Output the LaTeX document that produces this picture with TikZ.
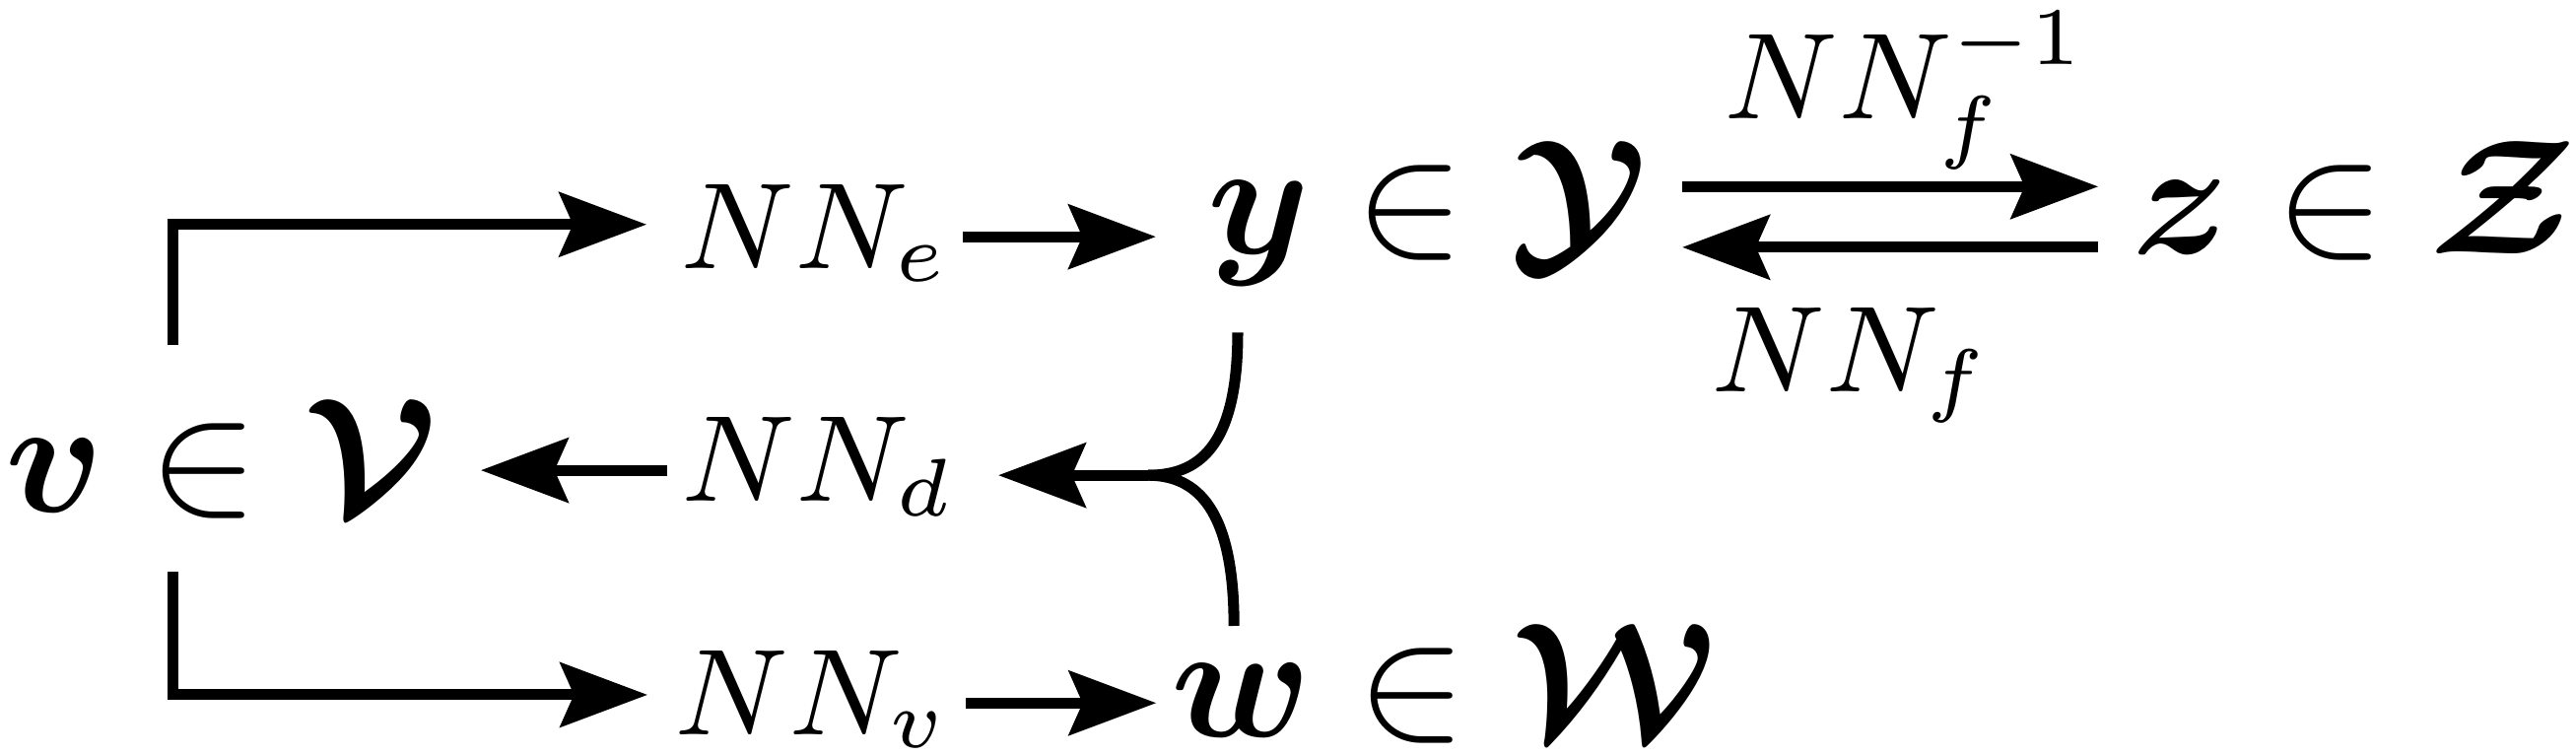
\documentclass[tikz,border=0pt]{standalone}
\usepackage{amsmath,amssymb}
\usetikzlibrary{arrows.meta}

\begin{document}
\begin{tikzpicture}[thick,>={Stealth[length=6.4pt,width=4.7pt,inset=1pt]},
		elem/.style={font=\large,inner sep=0pt,text height=8.2pt,text depth=2.3pt,anchor=base west},
		nnet/.style={font=\small,inner sep=0pt,text height=6.2pt,text depth=1.6pt,anchor=base west}]
			\useasboundingbox (0,0) rectangle (6.642,-1.944);
			\node[elem] (vV) at (0,-1.321) {$\boldsymbol{v}\in\boldsymbol{\mathcal{V}}$};
			\node[elem] (yY) at (3.100,-0.653) {$\boldsymbol{y}\in\boldsymbol{\mathcal{Y}}$};
			\node[elem] (zZ) at (5.484,-0.653) {$\boldsymbol{z}\in\boldsymbol{\mathcal{Z}}$};
			\node[elem] (wW) at (3.006,-1.898) {$\boldsymbol{w}\in\boldsymbol{\mathcal{W}}$};
			\node[nnet] (NNe) at (1.741,-0.691) {$NN_e$};
			\node[nnet] (NNd) at (1.744,-1.293) {$NN_d$};
			\node[nnet] (NNv) at (1.726,-1.893) {$NN_v$};
			\node[nnet] (NNfi) at (4.431,-0.305) {$NN_f^{-1}$};
			\node[nnet] (NNf) at (4.398,-1.011) {$NN_f$};
			\coordinate (vtop) at (0.445,-0.889);
			\coordinate (vbot) at (0.445,-1.474);
			\coordinate (mrg) at (2.960,-1.225);
			% encoder and decoder branches
			\draw[->] (vtop) |- ([xshift=-2.1pt,yshift=0.9pt]NNe.west);
			\draw[->] (vbot) |- ([xshift=-1.6pt,yshift=0.6pt]NNv.west);
			\draw[->] ([xshift=0.5pt]NNe.east) -- ([xshift=-3.4pt]NNe.east -| yY.west);
			\draw[->] ([xshift=0.7pt]NNv.east) -- ([xshift=-0.7pt]NNv.east -| wW.west);
			\draw[->] ([xshift=-0.7pt]NNd.west) -- ([xshift=2.7pt]NNd.west -| vV.east);
			% flow
			\draw[->] ([xshift=2.1pt,yshift=1.95pt]yY.east) -- ([xshift=-2.1pt,yshift=1.95pt]zZ.west);
			\draw[->] ([xshift=-2.1pt,yshift=-2.5pt]zZ.west) -- ([xshift=2.1pt,yshift=-2.5pt]yY.east);
			\draw ([xshift=2.6pt,yshift=-3.1pt]yY.south west) .. controls +(0,-0.3) and +(0.127,0) .. (mrg);
			\draw ([xshift=5pt,yshift=-0.5pt]wW.north west) .. controls +(0,0.3) and +(0.127,0) .. (mrg);
			\draw[->] (mrg) -- ([xshift=2.7pt]mrg -| NNd.east);
		\end{tikzpicture}
\end{document}
